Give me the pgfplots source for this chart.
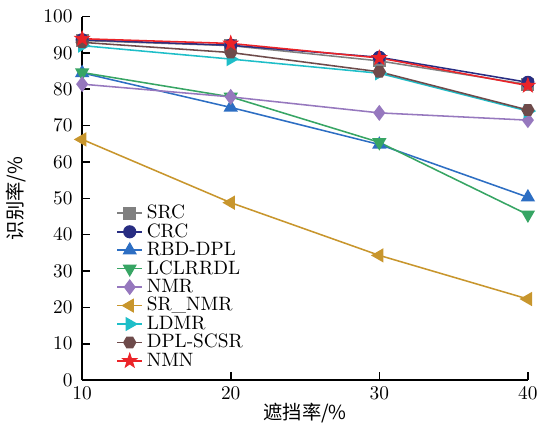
\documentclass[border=0pt]{standalone}
\usepackage{fontspec}
\usepackage{pgfplots}
\pgfplotsset{compat=1.18}
\newfontfamily\cjk{Noto Sans CJK SC}
\definecolor{cSRC}{RGB}{128,128,128}
\definecolor{cCRC}{RGB}{40,45,130}
\definecolor{cRBD}{RGB}{45,110,195}
\definecolor{cLCL}{RGB}{55,165,100}
\definecolor{cNMR}{RGB}{150,120,190}
\definecolor{cSRN}{RGB}{200,150,45}
\definecolor{cLDM}{RGB}{30,190,200}
\definecolor{cDPL}{RGB}{110,75,75}
\definecolor{cNMN}{RGB}{235,35,40}
\pgfdeclareplotmark{hex*}{%
  \pgfpathmoveto{\pgfqpointpolar{0}{\pgfplotmarksize}}%
  \pgfpathlineto{\pgfqpointpolar{60}{\pgfplotmarksize}}%
  \pgfpathlineto{\pgfqpointpolar{120}{\pgfplotmarksize}}%
  \pgfpathlineto{\pgfqpointpolar{180}{\pgfplotmarksize}}%
  \pgfpathlineto{\pgfqpointpolar{240}{\pgfplotmarksize}}%
  \pgfpathlineto{\pgfqpointpolar{300}{\pgfplotmarksize}}%
  \pgfpathclose\pgfusepathqfillstroke}
\pgfdeclareplotmark{fstar}{%
  \pgfpathmoveto{\pgfqpointpolar{90}{\pgfplotmarksize}}%
  \pgfpathlineto{\pgfqpointpolar{126}{0.4\pgfplotmarksize}}%
  \pgfpathlineto{\pgfqpointpolar{162}{\pgfplotmarksize}}%
  \pgfpathlineto{\pgfqpointpolar{198}{0.4\pgfplotmarksize}}%
  \pgfpathlineto{\pgfqpointpolar{234}{\pgfplotmarksize}}%
  \pgfpathlineto{\pgfqpointpolar{270}{0.4\pgfplotmarksize}}%
  \pgfpathlineto{\pgfqpointpolar{306}{\pgfplotmarksize}}%
  \pgfpathlineto{\pgfqpointpolar{342}{0.4\pgfplotmarksize}}%
  \pgfpathlineto{\pgfqpointpolar{18}{\pgfplotmarksize}}%
  \pgfpathlineto{\pgfqpointpolar{54}{0.4\pgfplotmarksize}}%
  \pgfpathclose\pgfusepathqfillstroke}
\begin{document}
\begin{tikzpicture}
\begin{axis}[
  scale only axis,
  width=230.5pt, height=188pt,
  xmin=10, xmax=40, ymin=0, ymax=100,
  xtick={10,20,30,40}, ytick={0,10,...,100},
  axis x line*=bottom, axis y line*=left,
  axis line style={-, thick},
  tick style={black, thick},
  tick align=inside,
  major tick length=4pt,
  yticklabel style={xshift=-1.5pt},
  xlabel={\cjk 遮挡率/\%},
  ylabel={\cjk 识别率/\%},
  ylabel style={yshift=2pt},
  xlabel style={yshift=5pt},
  clip=false,
  legend style={draw=none, fill=none, at={(0.072,0.499)}, anchor=north west,
    row sep=-2.9pt, font=\normalsize, inner sep=1pt},
  legend image code/.code={\draw[#1] (0cm,0cm) -- (0.45cm,0cm);
    \draw[#1, mark repeat=2, mark phase=2] plot coordinates {(0cm,0cm) (0.225cm,0cm) (0.45cm,0cm)};},
  legend cell align=left,
  every axis plot/.append style={thick, mark size=3pt},
]
\addplot[cSRC, mark=square*, mark options={fill=cSRC}] coordinates {(10,93.4) (20,92.0) (30,87.8) (40,81.3)};
\addlegendentry{SRC}
\addplot[cCRC, mark=*, mark options={fill=cCRC}] coordinates {(10,93.6) (20,92.1) (30,88.8) (40,81.9)};
\addlegendentry{CRC}
\addplot[cRBD, mark=triangle*, mark options={fill=cRBD}, mark size=3.5pt] coordinates {(10,84.5) (20,75.0) (30,64.8) (40,50.3)};
\addlegendentry{RBD-DPL}
\addplot[cLCL, mark=triangle*, mark options={fill=cLCL, rotate=180}, mark size=3.5pt] coordinates {(10,84.6) (20,77.9) (30,65.4) (40,45.5)};
\addlegendentry{LCLRRDL}
\addplot[cNMR, mark=diamond*, mark options={fill=cNMR}, mark size=3.5pt] coordinates {(10,81.4) (20,77.9) (30,73.5) (40,71.5)};
\addlegendentry{NMR}
\addplot[cSRN, mark=triangle*, mark options={fill=cSRN, rotate=90}, mark size=3.5pt] coordinates {(10,66.2) (20,48.8) (30,34.3) (40,22.3)};
\addlegendentry{SR\_NMR}
\addplot[cLDM, mark=triangle*, mark options={fill=cLDM, rotate=-90}, mark size=3.5pt] coordinates {(10,92.0) (20,88.3) (30,84.4) (40,74.0)};
\addlegendentry{LDMR}
\addplot[cDPL, mark=hex*, mark options={fill=cDPL}] coordinates {(10,92.9) (20,90.1) (30,84.8) (40,74.3)};
\addlegendentry{DPL-SCSR}
\addplot[cNMN, mark=fstar, mark options={fill=cNMN, thin}, mark size=4pt] coordinates {(10,93.9) (20,92.6) (30,88.6) (40,81.0)};
\addlegendentry{NMN}
\end{axis}
\path (current axis.outer north) ++(0,2pt);
\end{tikzpicture}
\end{document}
